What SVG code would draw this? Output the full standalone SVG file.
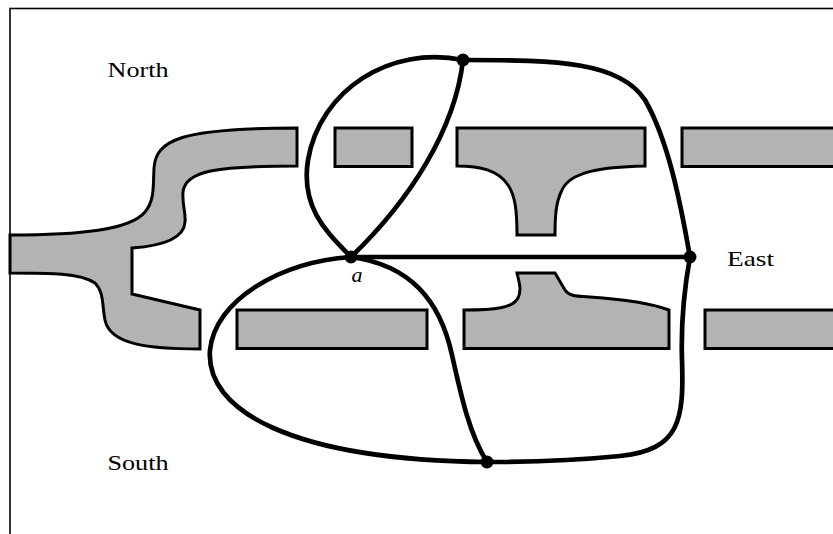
<svg xmlns="http://www.w3.org/2000/svg" width="833" height="534" viewBox="0 0 833 534">
<style>
.land{fill:#b3b3b3;stroke:#000;stroke-width:3;stroke-linejoin:miter}
.edge{fill:none;stroke:#000;stroke-width:4.7;stroke-linecap:round}
.lbl{font-family:"Liberation Serif","Times New Roman",serif;font-size:22px;fill:#000}
.node{fill:#000}
</style>
<rect x="0" y="0" width="833" height="534" fill="#fff"/>
<rect x="10" y="8.5" width="840" height="540" fill="none" stroke="#000" stroke-width="1.6"/>
<g id="land">
<path class="land" d="M10,235 C80,235 130,230 145,212 C155,200 153,185 154,168 C156,140 180,128 297,128 L297,166 C220,166 185,170 183,192 C182,205 186,212 185,222 C184,240 160,246 132,248 L132,294 L200,310 L200,349 C150,349 110,345 105,320 C102,305 104,292 95,283 C80,273 50,273 10,273 Z"/>
<rect class="land" x="335" y="128" width="77" height="38.5"/>
<path class="land" d="M457,128 L645,128 L645,166 C600,167 570,172 562,190 C556,202 555,215 555,235 L517,235 C517,210 515,195 508,185 C498,170 480,166 457,166 Z"/>
<rect class="land" x="682" y="128" width="160" height="38.5"/>
<rect class="land" x="237" y="310" width="190" height="38.5"/>
<path class="land" d="M464,310 C495,310 513,308 518,298 C522,290 519,282 517,273 L555,273 L565,290 C569,296 575,296 590,297 C620,299 650,303 669,310 L669,348.5 L464,348.5 Z"/>
<rect class="land" x="705" y="310" width="140" height="38.5"/>
</g>
<g id="connectors">
<path class="edge" d="M463,60 C455,130 410,200 351,257"/>
<path class="edge" d="M463,60 C390,45 320,90 308,160 C300,210 330,235 351,257"/>
<path class="edge" d="M463,60 C560,60 620,62 645,100 C668,140 680,200 690,257"/>
<path class="edge" d="M351,257 L690,257"/>
<path class="edge" d="M690,257 C684,290 681,330 682,360 C684,420 680,450 620,456 C570,461 520,462 487,462"/>
<path class="edge" d="M351,257 C410,265 440,300 452,355 C462,400 470,435 487,462"/>
<path class="edge" d="M351,257 C280,262 215,300 210,350 C205,410 290,460 487,462"/>
</g>
<g id="node-north-top"><circle class="node" cx="463" cy="60" r="6.5"/></g>
<g id="node-a"><circle class="node" cx="351" cy="257" r="6.5"/><text class="lbl" x="351.5" y="282" font-style="italic">a</text></g>
<g id="node-east"><circle class="node" cx="690" cy="257" r="6.5"/></g>
<g id="node-south-bottom"><circle class="node" cx="487" cy="462" r="6.5"/></g>
<g id="label-north"><text class="lbl" x="107.5" y="77" textLength="61" lengthAdjust="spacingAndGlyphs">North</text></g>
<g id="label-south"><text class="lbl" x="107.5" y="470" textLength="61" lengthAdjust="spacingAndGlyphs">South</text></g>
<g id="label-east"><text class="lbl" x="727" y="266" textLength="47" lengthAdjust="spacingAndGlyphs">East</text></g>
</svg>
